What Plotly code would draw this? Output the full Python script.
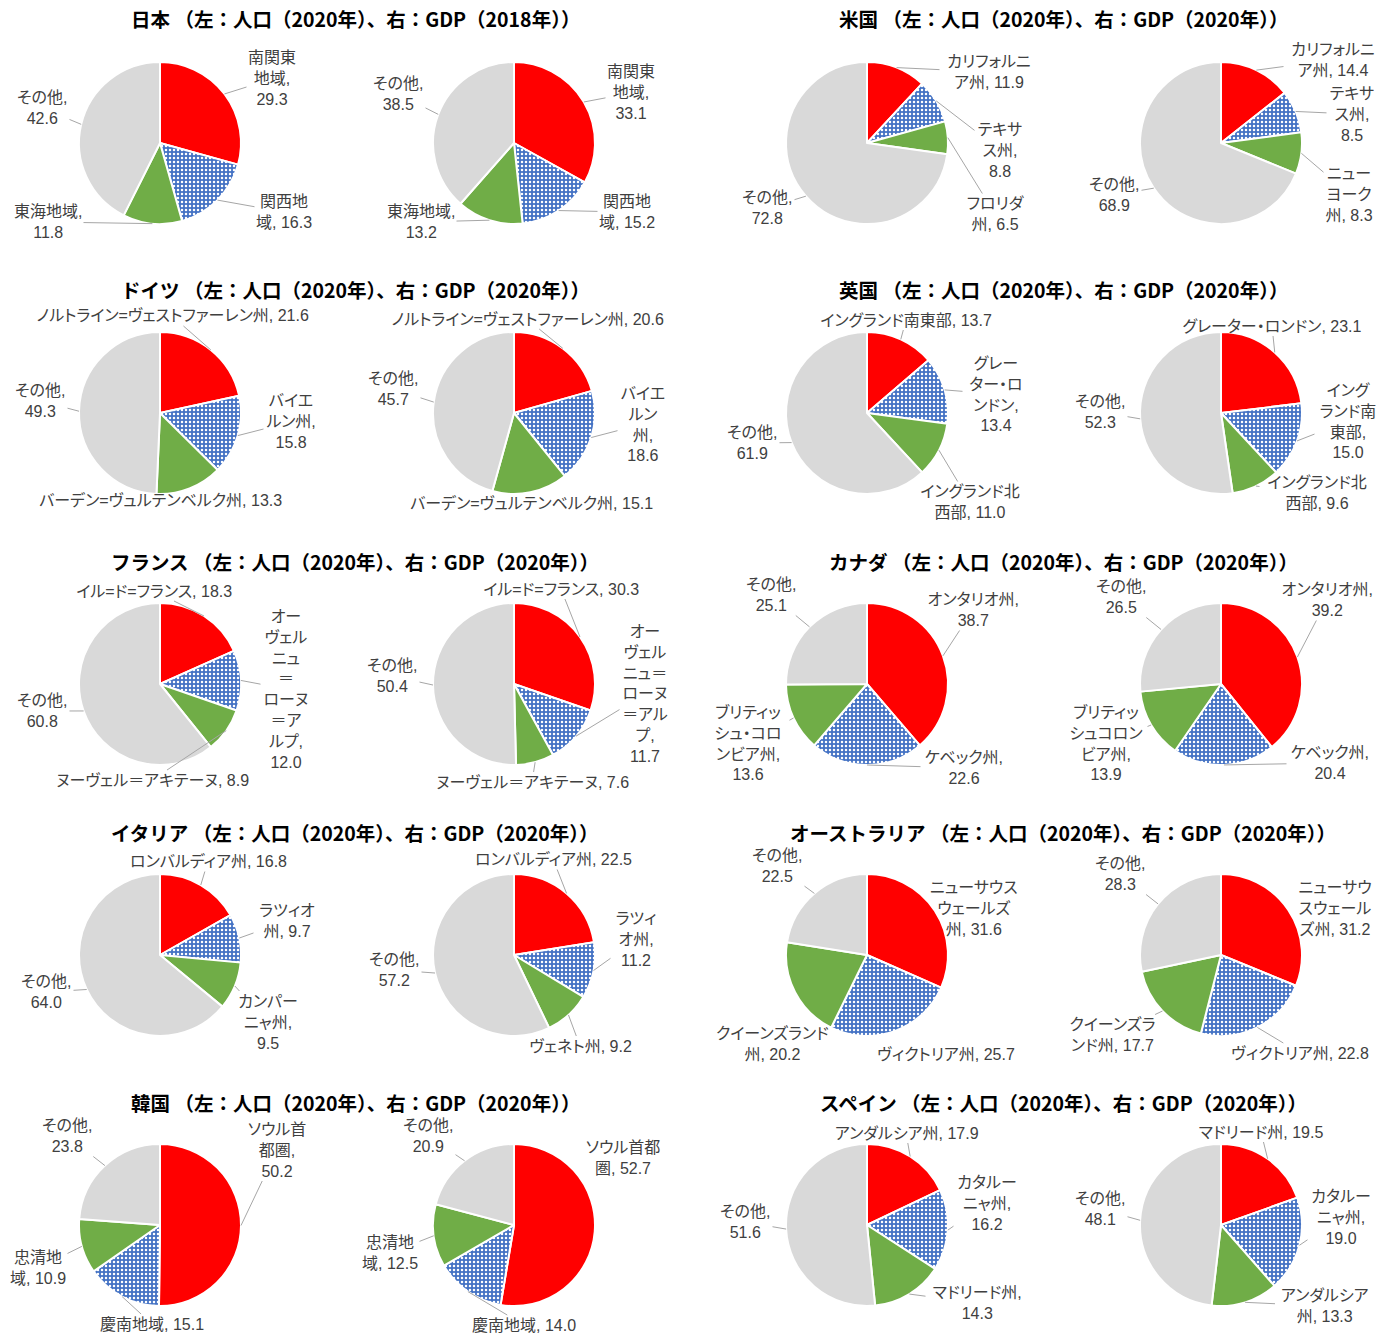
import math
import plotly.graph_objects as go

W, H = 1391, 1334

# ---- data: regional shares (%) of population (left pie) and GDP (right pie) ----
JP_POP_LABELS = ["南関東地域", "関西地域", "東海地域", "その他"]
JP_POP = [29.3, 16.3, 11.8, 42.6]
JP_GDP_LABELS = ["南関東地域", "関西地域", "東海地域", "その他"]
JP_GDP = [33.1, 15.2, 13.2, 38.5]

US_POP_LABELS = ["カリフォルニア州", "テキサス州", "フロリダ州", "その他"]
US_POP = [11.9, 8.8, 6.5, 72.8]
US_GDP_LABELS = ["カリフォルニア州", "テキサス州", "ニューヨーク州", "その他"]
US_GDP = [14.4, 8.5, 8.3, 68.9]

DE_POP_LABELS = ["ノルトライン=ヴェストファーレン州", "バイエルン州", "バーデン=ヴュルテンベルク州", "その他"]
DE_POP = [21.6, 15.8, 13.3, 49.3]
DE_GDP_LABELS = ["ノルトライン=ヴェストファーレン州", "バイエルン州", "バーデン=ヴュルテンベルク州", "その他"]
DE_GDP = [20.6, 18.6, 15.1, 45.7]

UK_POP_LABELS = ["イングランド南東部", "グレーター・ロンドン", "イングランド北西部", "その他"]
UK_POP = [13.7, 13.4, 11.0, 61.9]
UK_GDP_LABELS = ["グレーター・ロンドン", "イングランド南東部", "イングランド北西部", "その他"]
UK_GDP = [23.1, 15.0, 9.6, 52.3]

FR_POP_LABELS = ["イル=ド=フランス", "オーヴェルニュ＝ローヌ＝アルプ", "ヌーヴェル＝アキテーヌ", "その他"]
FR_POP = [18.3, 12.0, 8.9, 60.8]
FR_GDP_LABELS = ["イル=ド=フランス", "オーヴェルニュ＝ローヌ＝アルプ", "ヌーヴェル＝アキテーヌ", "その他"]
FR_GDP = [30.3, 11.7, 7.6, 50.4]

CA_POP_LABELS = ["オンタリオ州", "ケベック州", "ブリティッシュ・コロンビア州", "その他"]
CA_POP = [38.7, 22.6, 13.6, 25.1]
CA_GDP_LABELS = ["オンタリオ州", "ケベック州", "ブリティッシュコロンビア州", "その他"]
CA_GDP = [39.2, 20.4, 13.9, 26.5]

IT_POP_LABELS = ["ロンバルディア州", "ラツィオ州", "カンパーニャ州", "その他"]
IT_POP = [16.8, 9.7, 9.5, 64.0]
IT_GDP_LABELS = ["ロンバルディア州", "ラツィオ州", "ヴェネト州", "その他"]
IT_GDP = [22.5, 11.2, 9.2, 57.2]

AU_POP_LABELS = ["ニューサウスウェールズ州", "ヴィクトリア州", "クイーンズランド州", "その他"]
AU_POP = [31.6, 25.7, 20.2, 22.5]
AU_GDP_LABELS = ["ニューサウスウェールズ州", "ヴィクトリア州", "クイーンズランド州", "その他"]
AU_GDP = [31.2, 22.8, 17.7, 28.3]

KR_POP_LABELS = ["ソウル首都圏", "慶南地域", "忠清地域", "その他"]
KR_POP = [50.2, 15.1, 10.9, 23.8]
KR_GDP_LABELS = ["ソウル首都圏", "慶南地域", "忠清地域", "その他"]
KR_GDP = [52.7, 14.0, 12.5, 20.9]

ES_POP_LABELS = ["アンダルシア州", "カタルーニャ州", "マドリード州", "その他"]
ES_POP = [17.9, 16.2, 14.3, 51.6]
ES_GDP_LABELS = ["マドリード州", "カタルーニャ州", "アンダルシア州", "その他"]
ES_GDP = [19.5, 19.0, 13.3, 48.1]

COUNTRIES = ["日本", "米国", "ドイツ", "英国", "フランス", "カナダ", "イタリア", "オーストラリア", "韓国", "スペイン"]
POP_YEARS = ["2020"] * 10
GDP_YEARS = ["2018", "2020", "2020", "2020", "2020", "2020", "2020", "2020", "2020", "2020"]

SERIES = [
    (JP_POP_LABELS, JP_POP, JP_GDP_LABELS, JP_GDP),
    (US_POP_LABELS, US_POP, US_GDP_LABELS, US_GDP),
    (DE_POP_LABELS, DE_POP, DE_GDP_LABELS, DE_GDP),
    (UK_POP_LABELS, UK_POP, UK_GDP_LABELS, UK_GDP),
    (FR_POP_LABELS, FR_POP, FR_GDP_LABELS, FR_GDP),
    (CA_POP_LABELS, CA_POP, CA_GDP_LABELS, CA_GDP),
    (IT_POP_LABELS, IT_POP, IT_GDP_LABELS, IT_GDP),
    (AU_POP_LABELS, AU_POP, AU_GDP_LABELS, AU_GDP),
    (KR_POP_LABELS, KR_POP, KR_GDP_LABELS, KR_GDP),
    (ES_POP_LABELS, ES_POP, ES_GDP_LABELS, ES_GDP),
]

# ---- layout: pie centres / radius in pixels ----
PIE_R = 81
ROW_CY = [143, 413, 684, 955, 1225]
COL_CX = [(160, 514), (867, 1221)]
TITLE_X = [355, 1063]
TITLE_Y = [19, 290, 561, 832, 1102]

# label boxes: (centre x, centre y, line-break positions[, leader line]) per slice, per pie
LABEL_LAYOUT = [
    # 日本
    ([(272, 79, [3, 6]), (284, 212, [3]), (48, 222, [5]), (42, 108, [4])],
     [(631, 93, [3, 6]), (627, 212, [3]), (421, 222, [5]), (398, 94, [4])]),
    # 米国
    ([(989, 72, [6]), (1000, 150, [3, 6]), (995, 214, [4]), (767, 208, [4])],
     [(1333, 60, [6]), (1352, 114, [3, 6]), (1349, 194, [3, 6]), (1114, 195, [4])]),
    # ドイツ
    ([(172, 316, []), (291, 422, [3, 7]), (160, 500, [], False), (40, 401, [4])],
     [(527, 319, []), (643, 424, [3, 5, 7]), (531, 503, [], False), (393, 389, [4])]),
    # 英国
    ([(906, 320, []), (996, 394, [3, 7, 11]), (970, 502, [7]), (752, 443, [4])],
     [(1272, 326, []), (1348, 421, [3, 7, 10]), (1317, 493, [7]), (1100, 412, [4])]),
    # フランス
    ([(154, 591, []), (286, 689, [2, 5, 7, 8, 11, 13, 16]), (152, 780, []), (42, 711, [4])],
     [(561, 589, []), (645, 694, [2, 5, 8, 11, 14, 16]), (532, 782, []), (392, 676, [4])]),
    # カナダ
    ([(973, 610, [7]), (964, 768, [6]), (748, 743, [5, 10, 15]), (771, 595, [4])],
     [(1327, 600, [7]), (1330, 763, [6]), (1106, 743, [5, 10, 14]), (1121, 597, [4])]),
    # イタリア
    ([(208, 861, []), (287, 921, [4]), (268, 1022, [4, 8]), (46, 992, [4])],
     [(553, 859, []), (636, 940, [3, 6]), (580, 1046, []), (394, 970, [4])]),
    # オーストラリア
    ([(974, 908, [6, 11], False), (946, 1054, [], False), (772, 1044, [8], False), (777, 866, [4])],
     [(1335, 908, [5, 10], False), (1300, 1053, []), (1112, 1035, [6]), (1120, 874, [4])]),
    # 韓国
    ([(277, 1150, [4, 7]), (152, 1324, []), (38, 1268, [3]), (67, 1136, [4])],
     [(623, 1158, [5], False), (524, 1325, []), (390, 1253, [3]), (428, 1136, [4])]),
    # スペイン
    ([(906, 1133, []), (987, 1203, [4, 8]), (977, 1303, [7]), (745, 1222, [4])],
     [(1261, 1132, []), (1341, 1217, [4, 8]), (1324, 1306, [6]), (1100, 1209, [4])]),
]

SLICE_COLORS = ["#FF0000", "#4472C4", "#70AD47", "#D9D9D9"]
PATTERN_SHAPES = ["", ".", "", ""]
LABEL_FONT = dict(family="Liberation Sans, Noto Sans CJK JP, sans-serif", size=16, color="#404040")
TITLE_FONT = dict(family="Noto Sans CJK JP, sans-serif", size=19.5, color="#000000")
LEADER_COLOR = "#A6A6A6"


def wrap_label(name, value, cuts):
    s = f"{name}, {value:.1f}"
    parts, prev = [], 0
    for c in list(cuts) + [len(s)]:
        parts.append(s[prev:c].strip())
        prev = c
    return "<br>".join(p for p in parts if p)


fig = go.Figure()
annotations = []

for i, (country, (l_lab, l_val, r_lab, r_val)) in enumerate(zip(COUNTRIES, SERIES)):
    row, col = divmod(i, 2)
    cy = ROW_CY[row]
    for side, (labels, values) in enumerate([(l_lab, l_val), (r_lab, r_val)]):
        cx = COL_CX[col][side]
        fig.add_trace(go.Pie(
            labels=labels,
            values=values,
            sort=False,
            direction="clockwise",
            rotation=0,
            textinfo="none",
            showlegend=False,
            domain=dict(x=[(cx - PIE_R) / W, (cx + PIE_R) / W],
                        y=[1 - (cy + PIE_R) / H, 1 - (cy - PIE_R) / H]),
            marker=dict(
                colors=SLICE_COLORS,
                line=dict(color="#FFFFFF", width=2),
                pattern=dict(shape=PATTERN_SHAPES, fgcolor="#FFFFFF",
                             bgcolor=SLICE_COLORS, size=4, solidity=0.3),
            ),
        ))

        # data labels, with leader lines from each slice's outer edge
        total = sum(values)
        cum = 0.0
        for (name, v), spec in zip(zip(labels, values), LABEL_LAYOUT[i][side]):
            tx, ty, cuts = spec[:3]
            leader = spec[3] if len(spec) > 3 else True
            mid = 2 * math.pi * (cum + v / 2) / total
            cum += v
            text = wrap_label(name, v, cuts)
            if leader:
                px = cx + PIE_R * math.sin(mid)
                py = cy - PIE_R * math.cos(mid)
                annotations.append(dict(
                    x=px / W, y=1 - py / H, xref="paper", yref="paper",
                    ax=tx - px, ay=ty - py, text=text,
                    showarrow=True, arrowhead=0, arrowwidth=1, arrowcolor=LEADER_COLOR,
                    standoff=0, startstandoff=0,
                    font=LABEL_FONT, align="center",
                ))
            else:
                annotations.append(dict(
                    x=tx / W, y=1 - ty / H, xref="paper", yref="paper",
                    text=text, showarrow=False, xanchor="center", yanchor="middle",
                    font=LABEL_FONT, align="center",
                ))

    annotations.append(dict(
        x=TITLE_X[col] / W, y=1 - TITLE_Y[row] / H, xref="paper", yref="paper",
        text=f"<b>{country} （左：人口（{POP_YEARS[i]}年）、右：GDP（{GDP_YEARS[i]}年））</b>",
        showarrow=False, font=TITLE_FONT, xanchor="center", yanchor="middle",
    ))

fig.update_layout(
    width=W, height=H, autosize=False,
    margin=dict(l=0, r=0, t=0, b=0),
    paper_bgcolor="#FFFFFF", plot_bgcolor="#FFFFFF",
    annotations=annotations,
)

# proportional kana widths for the data labels (titles keep full-width spacing)
PALT_JS = """
var gd = document.getElementById('{plot_id}');
gd.querySelectorAll('text').forEach(function (t) {
    if ((t.style.fontFamily || '').indexOf('Liberation') !== -1) {
        t.style.fontFeatureSettings = '"palt"';
    }
});
"""

fig.write_html("out.html", post_script=PALT_JS)
